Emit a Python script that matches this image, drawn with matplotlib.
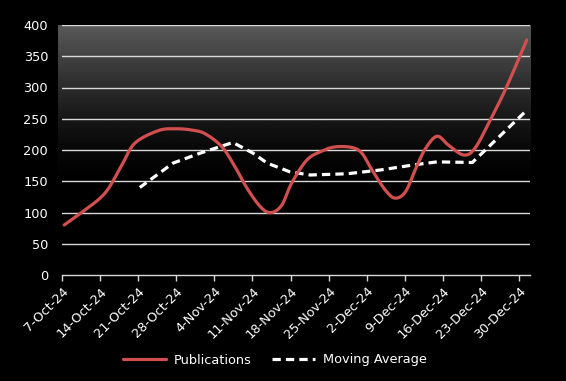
import matplotlib
matplotlib.use("Agg")
import matplotlib.pyplot as plt
from matplotlib.transforms import ScaledTranslation
import numpy as np

plt.rcParams["font.family"] = "DejaVu Sans"
FONTSIZE = 9.3

# x axis: days since 7-Oct-24, ticks weekly
tick_days = [0, 7, 14, 21, 28, 35, 42, 49, 56, 63, 70, 77, 84]
tick_labels = ["7-Oct-24", "14-Oct-24", "21-Oct-24", "28-Oct-24", "4-Nov-24",
               "11-Nov-24", "18-Nov-24", "25-Nov-24", "2-Dec-24", "9-Dec-24",
               "16-Dec-24", "23-Dec-24", "30-Dec-24"]

# Publications
pub_days = [0.4, 3.6, 7.9, 11.0, 13.4, 17.7, 20.8, 23.8, 26.3, 29.4, 31.8, 34.2,
            36.7, 38.5, 40.4, 42.2, 45.0, 47.7, 50.2, 53.3, 55.1, 56.9, 59.4,
            61.2, 63.1, 64.9, 66.7, 68.9, 71.0, 73.8, 75.9, 78.7, 81.7, 85.4]
pub_vals = [80, 100, 131, 176, 211, 231, 234, 232, 226, 205, 173, 136,
            107, 100, 112, 147, 184, 198, 205, 204, 195, 169, 136,
            123, 133, 168, 201, 222, 208, 192, 203, 248, 301, 376]

# Moving average
ma_days = [14.3, 20.4, 25.4, 31.4, 35.1, 37.7, 41.9, 45.6, 52.4, 58.5, 64.5,
           68.9, 75.4, 85.1]
ma_vals = [140, 179, 195, 212, 195, 179, 165, 160, 162, 168, 176,
           181, 180, 261]


def smooth(xs, ys, n=20):
    # excel-like bezier smoothing through the points
    p = np.column_stack([xs, ys]).astype(float)
    p = np.vstack([p[0], p, p[-1]])
    out = []
    t = np.linspace(0, 1, n)[:, None]
    for i in range(1, len(p) - 2):
        p0, p1, p2, p3 = p[i - 1], p[i], p[i + 1], p[i + 2]
        c1 = p1 + (p2 - p0) / 6
        c2 = p2 - (p3 - p1) / 6
        seg = ((1 - t) ** 3) * p1 + 3 * ((1 - t) ** 2) * t * c1 \
            + 3 * (1 - t) * t ** 2 * c2 + t ** 3 * p2
        out.append(seg)
    out = np.vstack(out)
    return out[:, 0], out[:, 1]


fig = plt.figure(figsize=(5.66, 3.81), dpi=100, facecolor="black")
ax = fig.add_axes([62 / 566, 1 - 275 / 381, 468 / 566, 250 / 381])
ax.set_facecolor("black")

# gradient background of the plot area
levels = np.linspace(0, 400, 200)
shade = np.interp(levels, [0, 150, 200, 250, 300, 350, 400],
                  [0.0, 0.0, 0.03, 0.09, 0.17, 0.26, 0.35])
grad = np.repeat(shade[:, None], 2, axis=1)
ax.imshow(grad, cmap="gray", vmin=0, vmax=1, origin="lower", aspect="auto",
          extent=[-0.75, 86.0, 0, 400], zorder=0, clip_on=False)

for v in range(50, 401, 50):
    ax.axhline(v, color="#d9d9d9", lw=1.0, zorder=1)

sx, sy = smooth(pub_days, pub_vals)
ax.plot(sx, sy, color="#d24f4f", lw=2.3, solid_capstyle="round",
        label="Publications", zorder=3)
ax.plot(ma_days, ma_vals, color="white", lw=2.3, dashes=(2.6, 1.6),
        label="Moving Average", zorder=2)

ax.set_xlim(0, 86.0)
ax.set_ylim(0, 400)
ax.set_yticks(range(0, 401, 50))
ax.set_xticks(tick_days)
ax.set_xticklabels(tick_labels, rotation=45, ha="right", va="top",
                   rotation_mode="anchor")
shift = ScaledTranslation(5 / 100, -5 / 100, fig.dpi_scale_trans)
for lab in ax.get_xticklabels():
    lab.set_transform(lab.get_transform() + shift)

for s in ["top", "right", "left"]:
    ax.spines[s].set_visible(False)
ax.spines["bottom"].set_color("#d9d9d9")
ax.spines["bottom"].set_linewidth(1.0)
ax.tick_params(axis="y", length=0, pad=10, labelcolor="white",
               labelsize=FONTSIZE)
ax.tick_params(axis="x", length=4, width=1, color="#d9d9d9", pad=3,
               labelcolor="white", labelsize=FONTSIZE)

leg = fig.legend(loc="center", bbox_to_anchor=(0.486, 1 - 360 / 381), ncol=2,
                 frameon=False, fontsize=FONTSIZE, handlelength=3.3,
                 handletextpad=0.6, columnspacing=1.6)
for t in leg.get_texts():
    t.set_color("white")

fig.savefig("out.png", dpi=100, facecolor="black")
